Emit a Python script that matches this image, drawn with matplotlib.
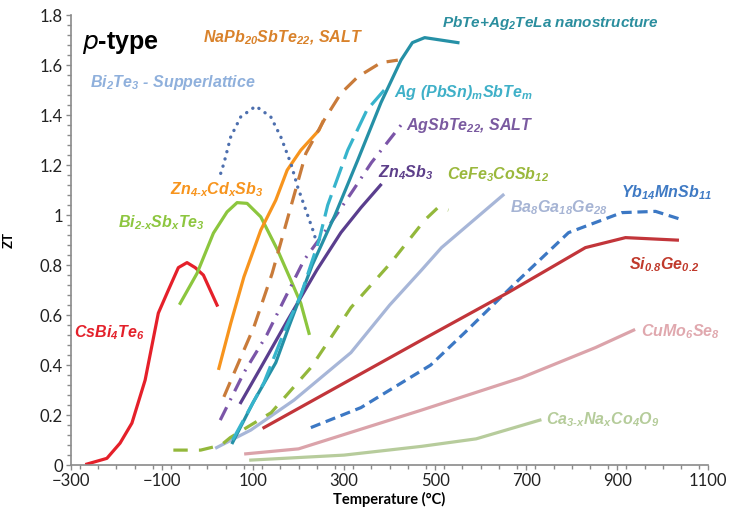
import matplotlib
matplotlib.use("Agg")
import matplotlib.pyplot as plt
from matplotlib.ticker import MultipleLocator

plt.rcParams['mathtext.fontset'] = 'custom'
plt.rcParams['mathtext.rm'] = 'Liberation Sans:italic:bold'
plt.rcParams['mathtext.it'] = 'Liberation Sans:italic:bold'
plt.rcParams['mathtext.bf'] = 'Liberation Sans:italic:bold'

# ZT vs temperature (°C)
cs_T = [-265, -221, -192, -166, -137, -108, -86, -64, -45, -27, -9, 21]
cs_zt = [0.004, 0.027, 0.088, 0.168, 0.34, 0.608, 0.70, 0.79, 0.81, 0.79, 0.76, 0.64]

bisb_T = [-60, -23, 13, 43, 65, 87, 117, 154, 183, 205, 223]
bisb_zt = [0.647, 0.767, 0.928, 1.013, 1.05, 1.047, 0.993, 0.86, 0.74, 0.647, 0.527]

zncd_T = [25, 51, 80, 117, 150, 175, 205, 245, 253]
zncd_zt = [0.387, 0.567, 0.753, 0.94, 1.06, 1.18, 1.26, 1.34, 1.373]

sl_T = [29, 36, 51, 73, 106, 139, 161, 183, 198, 216, 234, 242]
sl_zt = [1.167, 1.207, 1.313, 1.393, 1.436, 1.393, 1.313, 1.207, 1.113, 1.02, 0.927, 0.87]

napb_T = [36, 58, 102, 142, 179, 216, 256, 293, 330, 381, 418]
napb_zt = [0.273, 0.367, 0.553, 0.767, 1.007, 1.247, 1.38, 1.487, 1.553, 1.61, 1.62]

agpb_T = [55, 124, 172, 205, 245, 264, 308, 350, 388]
agpb_zt = [0.10, 0.33, 0.55, 0.68, 0.90, 1.04, 1.26, 1.42, 1.50]

pbte_T = [55, 100, 150, 180, 230, 280, 330, 381, 425, 450, 477, 550]
pbte_zt = [0.09, 0.25, 0.41, 0.56, 0.80, 1.00, 1.22, 1.45, 1.62, 1.69, 1.71, 1.69]

agsb_T = [28, 80, 130, 168, 212, 264, 320, 360, 425]
agsb_zt = [0.18, 0.37, 0.52, 0.66, 0.82, 0.95, 1.10, 1.21, 1.36]

zn_T = [73, 117, 176, 240, 293, 337, 380]
zn_zt = [0.25, 0.39, 0.58, 0.78, 0.93, 1.03, 1.12]

cefe_T = [-75, -15, 30, 50, 140, 227, 315, 403, 477, 506, 529]
cefe_zt = [0.06, 0.06, 0.08, 0.11, 0.21, 0.39, 0.63, 0.81, 0.98, 1.03, 1.02]

ba_T = [20, 95, 190, 315, 400, 470, 514, 649]
ba_zt = [0.07, 0.14, 0.26, 0.45, 0.64, 0.78, 0.87, 1.08]

sige_T = [124, 470, 660, 830, 918, 1032]
sige_zt = [0.15, 0.50, 0.69, 0.87, 0.91, 0.90]

yb_T = [227, 337, 490, 565, 683, 793, 910, 984, 1045]
yb_zt = [0.15, 0.23, 0.40, 0.53, 0.74, 0.93, 1.01, 1.015, 0.98]

cu_T = [84, 200, 470, 690, 852, 936]
cu_zt = [0.045, 0.065, 0.22, 0.35, 0.47, 0.54]

ca_T = [95, 300, 470, 590, 730]
ca_zt = [0.02, 0.04, 0.075, 0.105, 0.18]

fig = plt.figure(figsize=(7.31, 5.22), dpi=100)
ax = fig.add_axes([0.097, 0.109, 0.872, 0.862])

lw = 2.3
ax.plot(ca_T, ca_zt, color='#b7cc9c', lw=lw)
ax.plot(cu_T, cu_zt, color='#dba3aa', lw=lw)
ax.plot(yb_T, yb_zt, color='#3c78c4', lw=lw, dashes=(3.2, 1.8))
ax.plot(sige_T, sige_zt, color='#c2353a', lw=lw)
ax.plot(ba_T, ba_zt, color='#a7b6d8', lw=lw)
ax.plot(cefe_T, cefe_zt, color='#93b83b', lw=lw, dashes=(4.5, 3.5))
ax.plot(cs_T, cs_zt, color='#e5202a', lw=lw)
ax.plot(bisb_T, bisb_zt, color='#8cc63e', lw=lw)
ax.plot(zncd_T, zncd_zt, color='#f7941d', lw=lw)
# dotted superlattice curve
ax.plot(sl_T, sl_zt, color='#4d6fae', lw=2.4, linestyle=(0, (0.05, 2.2)),
        dash_capstyle='round')
ax.plot(napb_T, napb_zt, color='#c97b3a', lw=lw, dashes=(5, 3))
ax.plot(agsb_T, agsb_zt, color='#7b55a8', lw=lw, dashes=(4.5, 2.5, 0.6, 2.5))
ax.plot(zn_T, zn_zt, color='#5a3e8e', lw=lw)
ax.plot(pbte_T, pbte_zt, color='#2590a6', lw=lw)
ax.plot(agpb_T, agpb_zt, color='#37b4cc', lw=lw, dashes=(7, 2.5))

lab = dict(fontsize=11.5, fontweight='bold', fontstyle='italic',
           family='Liberation Sans', va='center', ha='left')
ax.text(-276, 1.69, r'$\mathit{p}$-type', fontsize=18, fontweight='bold',
        family='Liberation Sans', va='center', ha='left', color='black',
        math_fontfamily='dejavusans')
ax.text(-9, 1.71, r'NaPb$_{20}$SbTe$_{22}$, SALT', color='#d9822b', **lab)
ax.text(516, 1.77, r'PbTe+Ag$_{2}$TeLa nanostructure', color='#2b8e9e',
        **dict(lab, fontsize=11))
ax.text(-258, 1.53, r'Bi$_{2}$Te$_{3}$ - Supperlattice', color='#8fb0dc', **lab)
ax.text(410, 1.49, r'Ag (PbSn)$_{m}$SbTe$_{m}$', color='#3fb0c8', **lab)
ax.text(436, 1.36, r'AgSbTe$_{22}$, SALT', color='#7a5aa0', **lab)
ax.text(375, 1.17, r'Zn$_{4}$Sb$_{3}$', color='#5d3f8a', **lab)
ax.text(525, 1.16, r'CeFe$_{3}$CoSb$_{12}$', color='#9ab83c', **lab)
ax.text(-82, 1.10, r'Zn$_{4\text{-}x}$Cd$_{x}$Sb$_{3}$', color='#f7941d', **lab)
ax.text(-196, 0.97, r'Bi$_{2\text{-}x}$Sb$_{x}$Te$_{3}$', color='#8dc63f', **lab)
ax.text(664, 1.03, r'Ba$_{8}$Ga$_{18}$Ge$_{28}$', color='#a6b4d4', **lab)
ax.text(908, 1.09, r'Yb$_{14}$MnSb$_{11}$', color='#3f7ac4', **lab)
ax.text(926, 0.80, r'Si$_{0.8}$Ge$_{0.2}$', color='#c0392b', **lab)
ax.text(-293, 0.53, r'CsBi$_{4}$Te$_{6}$', color='#e3202a', **lab)
ax.text(952, 0.535, r'CuMo$_{6}$Se$_{8}$', color='#e0a8ae', **lab)
ax.text(743, 0.18, r'Ca$_{3\text{-}x}$Na$_{x}$Co$_{4}$O$_{9}$', color='#b5cc9a', **lab)

ax.set_xlim(-300, 1100)
ax.set_ylim(0, 1.8)
ax.xaxis.set_minor_locator(MultipleLocator(40))
ax.yaxis.set_minor_locator(MultipleLocator(0.04))
ax.set_xticks([-300, -100, 100, 300, 500, 700, 900, 1100])
ax.set_yticks([0, 0.2, 0.4, 0.6, 0.8, 1, 1.2, 1.4, 1.6, 1.8])
ax.set_yticklabels(['0', '0.2', '0.4', '0.6', '0.8', '1', '1.2', '1.4', '1.6', '1.8'])

for s in ['top', 'right']:
    ax.spines[s].set_visible(False)
for s in ['left', 'bottom']:
    ax.spines[s].set_color('#8a8a8a')
    ax.spines[s].set_linewidth(1.2)
ax.tick_params(which='both', direction='out', color='#8a8a8a', width=1)
ax.tick_params(which='major', length=3.8, labelsize=12, pad=2)
ax.tick_params(which='minor', length=3)
for t in ax.get_xticklabels() + ax.get_yticklabels():
    t.set_family('Lato')
    t.set_color('#222222')

ax.set_xlabel('Temperature (°C)', fontsize=10.5, fontweight='bold', family='Lato')
ax.set_ylabel('ZT', fontsize=9.5, fontweight='bold', family='Lato')
ax.xaxis.set_label_coords(0.5, -0.06)
ax.yaxis.set_label_coords(-0.088, 0.5)

fig.savefig('out.png', dpi=100)
